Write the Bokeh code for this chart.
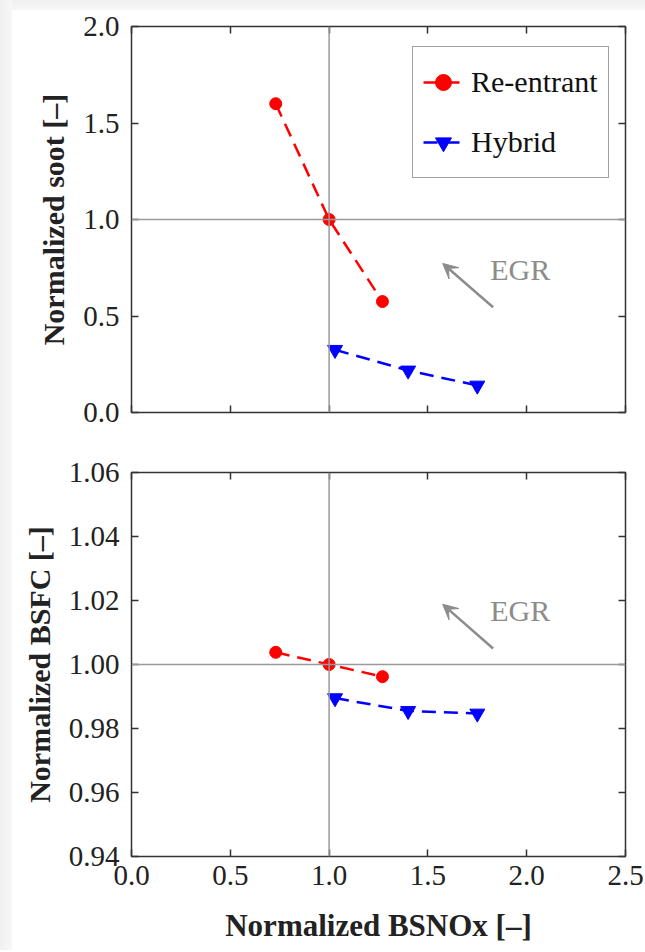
from bokeh.plotting import figure
from bokeh.layouts import column
from bokeh.models import (Span, Arrow, VeeHead, Legend, LegendItem, FixedTicker,
                          LinearAxis, PrintfTickFormatter, Range1d)
from bokeh.core.properties import value
from bokeh.embed import file_html
from bokeh.resources import INLINE

# ---- data ----
nox_reentrant = [0.73, 1.00, 1.27]
nox_hybrid = [1.03, 1.40, 1.75]
soot_reentrant = [1.60, 1.00, 0.575]
soot_hybrid = [0.325, 0.218, 0.14]
bsfc_reentrant = [1.0038, 1.0000, 0.9962]
bsfc_hybrid = [0.9895, 0.9855, 0.9847]

x_ticks = [0.0, 0.5, 1.0, 1.5, 2.0, 2.5]
soot_ticks = [0.0, 0.5, 1.0, 1.5, 2.0]
bsfc_ticks = [0.94, 0.96, 0.98, 1.00, 1.02, 1.04, 1.06]

# EGR annotation (arrow tail -> head, label position)
egr_soot_arrow = [1.83, 0.545, 1.575, 0.772]
egr_soot_label = [1.815, 0.74]
egr_bsfc_arrow = [1.83, 1.0050, 1.575, 1.0188]
egr_bsfc_label = [1.815, 1.0169]

SERIF = "Liberation Serif"
RED = "#ff0000"
BLUE = "#0000ff"
GRAY = "#9a9a9a"
FRAME = "#333333"


def mirror_axis(ticks):
    return LinearAxis(ticker=FixedTicker(ticks=ticks), major_label_text_font_size="1px",
                      major_label_text_color=None, major_label_standoff=0,
                      axis_line_color=None, major_tick_in=7, major_tick_out=0,
                      minor_tick_line_color=None, major_tick_line_color=FRAME,
                      major_tick_line_width=1.5)


def style(p, yticks, yfmt, show_xlabels):
    p.grid.visible = False
    p.outline_line_color = FRAME
    p.outline_line_width = 1.5
    p.background_fill_color = "white"
    p.border_fill_color = "white"
    for ax in p.xaxis:
        ax.ticker = FixedTicker(ticks=x_ticks)
        ax.formatter = PrintfTickFormatter(format="%.1f")
    for ax in p.yaxis:
        ax.ticker = FixedTicker(ticks=yticks)
        ax.formatter = PrintfTickFormatter(format=yfmt)
    for ax in p.axis:
        ax.axis_line_color = None
        ax.major_tick_in = 7
        ax.major_tick_out = 0
        ax.major_tick_line_color = FRAME
        ax.major_tick_line_width = 1.5
        ax.minor_tick_line_color = None
        ax.major_label_text_font = SERIF
        ax.major_label_text_font_size = "29px"
        ax.major_label_text_color = "#222222"
        ax.axis_label_text_font = SERIF
        ax.axis_label_text_font_size = "30px"
        ax.axis_label_text_font_style = "bold"
        ax.axis_label_text_color = "#222222"
    p.yaxis.major_label_standoff = 12
    p.yaxis.axis_label_standoff = 10
    if not show_xlabels:
        p.xaxis.major_label_text_font_size = "1px"
        p.xaxis.major_label_text_color = None
        p.xaxis.major_label_standoff = 0
    else:
        p.xaxis.major_label_standoff = 9
        p.xaxis.axis_label_standoff = 20
        p.xaxis.axis_label_text_font_size = "31px"
    p.add_layout(mirror_axis(x_ticks), "above")
    p.add_layout(mirror_axis(yticks), "right")
    p.add_layout(Span(location=1.0, dimension="height", line_color=GRAY, line_width=1.5))
    p.add_layout(Span(location=1.0, dimension="width", line_color=GRAY, line_width=1.5))


def series(p, x, y, color, marker, size):
    r1 = p.line(x, y, line_color=color, line_width=2.5, line_dash="14 8")
    r2 = p.scatter(x, y, marker=marker, size=size, fill_color=color, line_color=color)
    return [r1, r2]


def egr(p, arrow, label):
    p.add_layout(Arrow(end=VeeHead(size=15, fill_color="#8c8c8c", line_color="#8c8c8c"),
                       x_start=arrow[0], y_start=arrow[1], x_end=arrow[2], y_end=arrow[3],
                       line_color="#8c8c8c", line_width=2.5))
    p.text(x=[label[0]], y=[label[1]], text=["EGR"], text_font=value(SERIF),
           text_font_size="30px", text_color="#8c8c8c", text_baseline="middle",
           text_align="left")


# ---- top: soot ----
p1 = figure(width=633, height=430, output_backend="svg", toolbar_location=None,
            x_range=Range1d(0, 2.5), y_range=Range1d(0, 2.0),
            min_border_left=119, min_border_right=20, min_border_top=16, min_border_bottom=28)
style(p1, soot_ticks, "%.1f", False)
p1.left[0].axis_label = "Normalized soot [–]"
re1 = series(p1, nox_reentrant, soot_reentrant, RED, "circle", 12)
hy1 = series(p1, nox_hybrid, soot_hybrid, BLUE, "inverted_triangle", 15)
egr(p1, egr_soot_arrow, egr_soot_label)

legend = Legend(items=[LegendItem(label="Re-entrant", renderers=re1),
                       LegendItem(label="Hybrid", renderers=hy1)],
                location=(281, 234), glyph_width=40, glyph_height=50, label_height=50,
                label_standoff=8, spacing=10, padding=10, margin=0,
                label_text_font=SERIF, label_text_font_size="30px",
                label_text_color="#111111",
                border_line_color="#444444", border_line_width=1.5,
                background_fill_color="white", background_fill_alpha=1.0)
p1.add_layout(legend)

# ---- bottom: BSFC ----
p2 = figure(width=633, height=510, output_backend="svg", toolbar_location=None,
            x_range=Range1d(0, 2.5), y_range=Range1d(0.94, 1.06),
            min_border_left=119, min_border_right=20, min_border_top=32, min_border_bottom=94)
style(p2, bsfc_ticks, "%.2f", True)
p2.left[0].axis_label = "Normalized BSFC [–]"
p2.below[0].axis_label = "Normalized BSNOx [–]"
series(p2, nox_reentrant, bsfc_reentrant, RED, "circle", 12)
series(p2, nox_hybrid, bsfc_hybrid, BLUE, "inverted_triangle", 15)
egr(p2, egr_bsfc_arrow, egr_bsfc_label)

layout = column(p1, p2, spacing=0,
                styles={"background-color": "white",
                        "background-image": "linear-gradient(to right, #f0f0f0 0px, #f7f7f7 12px, transparent 12px), linear-gradient(to bottom, #f0f0f0 0px, #f7f7f7 10px, white 10px)",
                        "padding-left": "12px", "padding-top": "10px"})
open("out.html", "w").write(file_html(layout, INLINE))
